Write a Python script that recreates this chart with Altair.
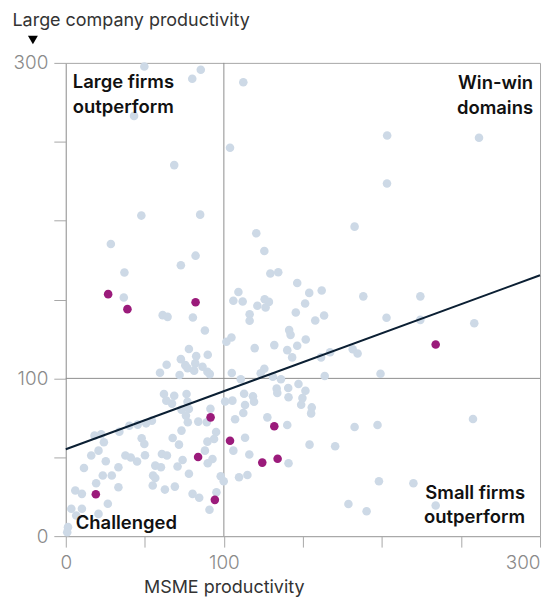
import altair as alt
import pandas as pd

# ---- data ----
gray_x = [49.7, 85.4, 80.0, 112.3, 43.2, 103.9, 68.6, 47.8, 85.0, 28.5, 120.5, 125.6, 37.1, 72.8, 82.1,
          129.4, 134.4, 146.4, 109.2,
          203.3, 261.4, 203.2, 182.7, 154.0, 161.9, 188.2, 224.3, 151.4, 163.4, 157.8, 202.9, 224.3, 258.4,
          151.8, 167.2, 161.5, 181.5, 184.6, 163.8, 199.1, 147.2, 151.6, 149.7, 148.9, 155.6, 155.2, 257.6,
          182.7, 197.2, 154.2, 170.4, 198.1, 219.9, 178.8, 190.3, 234.0,
          36.7, 106.0, 111.9, 125.8, 121.2, 126.4, 128.5, 145.5, 61.3, 64.4, 80.4, 116.3, 116.3, 88.0, 141.3,
          142.2, 104.8, 101.6, 119.5, 131.9, 146.4, 140.1, 77.9, 82.5, 89.8, 72.8, 143.2, 63.8, 75.6,
          77.0, 81.9, 86.5, 59.6, 72.0, 81.2, 89.6, 91.1, 105.0, 123.3, 125.6, 131.0, 136.1, 110.7,
          62.1, 63.6, 68.6, 76.4, 67.2, 77.0, 100.8, 105.4, 112.8, 113.4, 118.4, 119.1, 133.4, 133.8,
          140.7, 140.9, 77.9, 73.2, 76.0, 77.2, 83.8, 89.2, 91.5, 112.3, 107.1, 127.5, 140.1, 95.1,
          73.2, 67.6, 48.0, 49.7, 54.5, 50.8, 45.5, 40.2, 33.9, 22.4, 18.2, 113.4, 106.0, 116.1, 140.9,
          93.8, 89.6, 88.0, 92.8, 89.8, 71.6, 73.9, 70.7, 60.8, 64.0, 56.6, 60.2, 50.1, 45.1, 37.7,
          41.1, 33.3, 25.3, 11.5, 16.1, 20.7, 24.1, 114.9, 109.6, 98.0, 99.9, 77.9, 55.2, 56.6, 55.0,
          62.7, 69.0, 29.1, 23.4, 19.2, 33.3, 6.0, 10.2, 80.2, 84.4, 95.3, 26.6, 90.9, 3.5, 10.2, 6.6,
          20.7, 1.4, 0.9]
gray_y = [297.7, 295.6, 290.0, 287.7, 266.4, 246.2, 235.2, 203.2, 203.8, 185.2, 192.0, 180.8, 167.1, 171.7, 177.8,
          166.5, 167.3, 160.5, 154.8,
          254.0, 252.5, 223.6, 196.2, 154.2, 155.7, 152.0, 152.0, 147.5, 139.9, 136.7, 138.4, 137.1, 135.0,
          124.7, 116.6, 113.3, 118.5, 115.8, 101.5, 102.9, 96.4, 92.2, 87.5, 83.3, 81.6, 77.8, 74.2,
          69.2, 70.4, 58.0, 57.0, 34.8, 33.5, 20.4, 15.8, 19.4,
          151.3, 149.2, 148.7, 150.2, 146.0, 144.9, 148.5, 141.8, 140.1, 139.0, 138.6, 140.7, 136.5, 130.4, 130.6,
          127.6, 125.9, 123.2, 119.2, 121.1, 120.7, 117.9, 118.6, 114.1, 115.0, 112.2, 113.3, 108.6, 108.4,
          106.5, 109.5, 107.4, 103.6, 102.1, 104.9, 104.2, 102.7, 103.4, 103.2, 106.1, 101.1, 99.4, 99.4,
          90.1, 85.9, 89.0, 90.1, 84.0, 85.2, 85.4, 85.9, 90.3, 83.1, 88.6, 85.2, 93.5, 90.7,
          93.9, 88.0, 80.6, 80.2, 76.4, 72.2, 72.6, 72.2, 80.8, 78.1, 74.1, 75.3, 70.5, 66.0,
          66.9, 62.2, 62.0, 58.4, 73.2, 71.5, 70.7, 70.0, 66.2, 64.6, 63.7, 62.4, 54.2, 51.7, 46.2,
          61.6, 59.9, 54.2, 48.9, 46.2, 58.0, 48.3, 44.1, 52.1, 51.1, 44.7, 43.7, 51.3, 47.3, 51.1,
          49.8, 43.7, 47.5, 43.2, 51.1, 54.2, 59.5, 38.8, 37.3, 38.0, 34.8, 39.5, 38.4, 36.9, 32.1,
          29.5, 31.4, 38.4, 38.4, 33.5, 31.0, 28.9, 26.8, 26.8, 24.3, 27.8, 20.5, 16.7, 17.3, 17.3, 13.1,
          14.1, 5.7, 2.5]

hi_x = [26.8, 39.0, 82.1, 91.6, 103.9, 131.9, 124.3, 134.0, 83.7, 94.3, 19.0, 234.0]
hi_y = [153.4, 143.9, 148.3, 75.3, 60.5, 69.6, 46.6, 49.1, 50.2, 23.0, 26.6, 121.5]

fit_x = [0, 300]
fit_y = [55.1, 165.4]

tick_values = [0, 50, 100, 150, 200, 250, 300]
quadrant_at = [100]

x_title = "MSME productivity"
y_title = "Large company productivity"

# ---- styling ----
FONT = "Inter"
GRID = "#a8a8a8"
LIGHT = "#cdd9e6"
PURPLE = "#9b1b7b"
NAVY = "#0b1f33"

gray_df = pd.DataFrame({"x": gray_x, "y": gray_y})
hi_df = pd.DataFrame({"x": hi_x, "y": hi_y})
fit_df = pd.DataFrame({"x": fit_x, "y": fit_y})
one = pd.DataFrame({"a": [0]})

xs = alt.Scale(domain=[0, 300], nice=False, zero=False)
ys = alt.Scale(domain=[0, 300], nice=False, zero=False)

label_expr = "(datum.value == 0 || datum.value == 100 || datum.value == 300) ? datum.label : ''"

x_axis = alt.Axis(
    values=tick_values, labelExpr=label_expr, grid=False,
    title=x_title, titleX=78, titleY=57, titleAlign="left", titleBaseline="alphabetic",
    titleFontSize=18, titleFontWeight="normal", titleColor="#333333", titleFont=FONT,
    labelFont=FONT, labelFontSize=19, labelFontWeight=300, labelColor="#8a8a8a",
    labelPadding=6, tickSize=11, tickColor=GRID, domainColor=GRID,
    labelAlign={"condition": {"test": "datum.value == 300", "value": "right"}, "value": "center"},
)
y_axis = alt.Axis(
    values=tick_values, labelExpr=label_expr, grid=False,
    title=y_title, titleAngle=0, titleX=-54, titleY=-38, titleAlign="left",
    titleBaseline="alphabetic", titleFontSize=18, titleFontWeight="normal",
    titleColor="#333333", titleFont=FONT,
    labelFont=FONT, labelFontSize=19, labelFontWeight=300, labelColor="#8a8a8a",
    labelPadding=6, tickSize=12, tickColor=GRID, domainColor=GRID,
)

base_pts = alt.Chart(gray_df).mark_circle(size=74, color=LIGHT, opacity=1).encode(
    x=alt.X("x:Q", scale=xs, axis=x_axis),
    y=alt.Y("y:Q", scale=ys, axis=y_axis),
)
hi_pts = alt.Chart(hi_df).mark_circle(size=74, color=PURPLE, opacity=1).encode(
    x=alt.X("x:Q", scale=xs), y=alt.Y("y:Q", scale=ys)
)
q_df = pd.DataFrame({"v": quadrant_at})
vrule = alt.Chart(q_df).mark_rule(color="#8f8f8f", strokeWidth=1).encode(x=alt.X("v:Q", scale=xs))
hrule = alt.Chart(q_df).mark_rule(color="#8f8f8f", strokeWidth=1).encode(y=alt.Y("v:Q", scale=ys))
fit = alt.Chart(fit_df).mark_line(color=NAVY, strokeWidth=2).encode(
    x=alt.X("x:Q", scale=xs), y=alt.Y("y:Q", scale=ys)
)

def note(lines, px, py, align):
    return alt.Chart(one).mark_text(
        text=lines, align=align, baseline="alphabetic", font=FONT, fontSize=18.5,
        fontWeight=600, color="#111111", lineHeight=24.5,
    ).encode(x=alt.value(px), y=alt.value(py))

notes = [
    note(["Large firms", "outperform"], 7, 25.5, "left"),
    note(["Win-win", "domains"], 469, 26.5, "right"),
    note(["Challenged"], 10, 467.5, "left"),
    note(["Small firms", "outperform"], 461, 437.5, "right"),
]

arrow = alt.Chart(one).mark_point(
    shape="triangle-down", filled=True, color="#000000", size=100, opacity=1
).encode(x=alt.value(-33), y=alt.value(-23))

chart = alt.layer(vrule, hrule, base_pts, hi_pts, fit, *notes, arrow).properties(
    width=476, height=475,
    padding={"left": 58, "top": 54, "right": 5, "bottom": 60},
    autosize=alt.AutoSizeParams(type="none"),
).configure_view(stroke=GRID, strokeWidth=1)

chart.save("out.html", embed_options={"renderer": "svg", "actions": False})
